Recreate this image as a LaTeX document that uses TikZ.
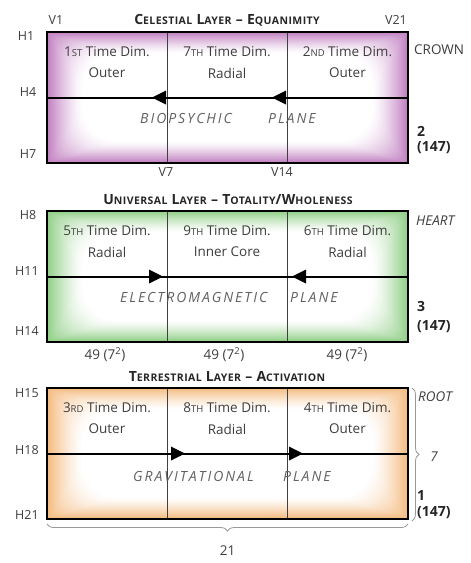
\documentclass[tikz,border=0pt]{standalone}
\usepackage{fontspec}
\setmainfont{Open Sans}
\usetikzlibrary{decorations.pathreplacing}
\definecolor{purp}{RGB}{192,126,192}
\definecolor{gren}{RGB}{142,206,132}
\definecolor{orng}{RGB}{244,186,126}
\definecolor{txt}{RGB}{62,62,62}
\newcommand\lsc[1]{{\fontsize{9.5}{10}\selectfont #1}}
\newcommand\tsc[1]{{\fontsize{10.5}{11}\selectfont #1}}
\newcommand\layer[4]{%
  \begin{scope}[yshift=-#2pt]
    \foreach \i in {0,...,36}{%
      \pgfmathtruncatemacro\pc{100*(1-\i/36)^1.35}%
      \pgfmathsetmacro\dx{\i*1.0}%
      \pgfmathsetmacro\dy{\i*0.6}%
      \fill[#3!\pc!white, rounded corners=\i*1pt] (47+\dx,\dy) rectangle (408-\dx,131-\dy);
    }
    \coordinate (#1-v1t) at (167,0);
    \coordinate (#1-v1b) at (167,131);
    \coordinate (#1-v2t) at (287,0);
    \coordinate (#1-v2b) at (287,131);
    \coordinate (#1-ml) at (47,65.5);
    \coordinate (#1-mr) at (408,65.5);
    \draw[thinline] (#1-v1t) -- (#1-v1b);
    \draw[thinline] (#1-v2t) -- (#1-v2b);
    \draw[midline] (#1-ml) -- (#1-mr);
    #4
    \node[boxframe] (#1-box) at (227.5,65.5) {};
  \end{scope}}
\tikzset{
  thinline/.style={draw=black!75,line width=0.9pt},
  midline/.style={draw=black,line width=2pt},
  boxframe/.style={draw=black,line width=2.4pt,minimum width=361pt,minimum height=131pt,inner sep=0pt},
  cell/.style={text=txt,font=\fontsize{13.5}{14}\selectfont,inner sep=0pt},
  plane/.style={text=black!62,font=\fontsize{14}{14}\selectfont\itshape\addfontfeatures{LetterSpace=14},anchor=west,inner sep=0pt},
  lbl/.style={text=txt,font=\fontsize{12.5}{13}\selectfont,inner sep=0pt},
  side/.style={text=txt,font=\fontsize{13.5}{14}\selectfont,inner sep=0pt,anchor=west},
  ttl/.style={text=black!85,font=\fontsize{14}{14}\selectfont\bfseries\addfontfeatures{LetterSpace=4},inner sep=0pt},
  num/.style={text=black!85,font=\fontsize{14}{14}\selectfont\bfseries,anchor=west,inner sep=0pt},
  brc/.style={draw=black!40,line width=0.8pt,decorate,decoration={brace,amplitude=7pt}},
  larrow/.pic={\fill (0,0) -- (14,-7) -- (14,7) -- cycle;},
  rarrow/.pic={\fill (0,0) -- (-14,-7) -- (-14,7) -- cycle;}
}
\begin{document}
\begin{tikzpicture}[x=1pt,y=-1pt]
\useasboundingbox[fill=white] (0,0) rectangle (471,563);
% ---- Celestial
\layer{A}{32}{purp}{\pic at (152,65.5) {larrow}; \pic at (272,65.5) {larrow};}
\node[cell] (A-c1a) at (107,52) {1\lsc{ST} Time Dim.};
\node[cell] (A-c1b) at (107,73) {Outer};
\node[cell] (A-c2a) at (227,52) {7\lsc{TH} Time Dim.};
\node[cell] (A-c2b) at (227,73) {Radial};
\node[cell] (A-c3a) at (347.5,52) {2\lsc{ND} Time Dim.};
\node[cell] (A-c3b) at (347.5,73) {Outer};
\node[plane] (A-p1) at (140,118) {BIOPSYCHIC};
\node[plane] (A-p2) at (268,118) {PLANE};
\node[ttl] (A-t) at (227,20) {C\tsc{ELESTIAL} L\tsc{AYER} – E\tsc{QUANIMITY}};
\node[lbl] (V1) at (56,20) {V1};
\node[lbl] (V21) at (396,20) {V21};
\node[lbl] (V7) at (166,172) {V7};
\node[lbl] (V14) at (282,172) {V14};
\node[lbl] (H1) at (26,36) {H1};
\node[lbl] (H4) at (28,92) {H4};
\node[lbl] (H7) at (28,154) {H7};
\node[side] (crown) at (414,50) {CROWN};
\node[num] (A-n1) at (417,131) {2};
\node[num] (A-n2) at (417,148) {(147)};
% ---- Universal
\layer{B}{211}{gren}{\pic at (163,65.5) {rarrow}; \pic at (292,65.5) {larrow};}
\node[cell] (B-c1a) at (107,231) {5\lsc{TH} Time Dim.};
\node[cell] (B-c1b) at (107,252) {Radial};
\node[cell] (B-c2a) at (227,231) {9\lsc{TH} Time Dim.};
\node[cell] (B-c2b) at (227,252) {Inner Core};
\node[cell] (B-c3a) at (347.5,231) {6\lsc{TH} Time Dim.};
\node[cell] (B-c3b) at (347.5,252) {Radial};
\node[plane] (B-p1) at (120,297) {ELECTROMAGNETIC};
\node[plane] (B-p2) at (290,297) {PLANE};
\node[ttl] (B-t) at (228,200) {U\tsc{NIVERSAL} L\tsc{AYER} – T\tsc{OTALITY}/W\tsc{HOLENESS}};
\node[lbl] (H8) at (28,215) {H8};
\node[lbl] (H11) at (27,271) {H11};
\node[lbl] (H14) at (27,331) {H14};
\node[side,font=\fontsize{13.5}{14}\selectfont\itshape] (heart) at (416,221) {HEART};
\node[num] (B-n1) at (417,306) {3};
\node[num] (B-n2) at (417,327) {(147)};
\node[lbl,font=\fontsize{13.5}{14}\selectfont] (f1) at (105,355) {49 (7\textsuperscript{2})};
\node[lbl,font=\fontsize{13.5}{14}\selectfont] (f2) at (224,355) {49 (7\textsuperscript{2})};
\node[lbl,font=\fontsize{13.5}{14}\selectfont] (f3) at (347,355) {49 (7\textsuperscript{2})};
% ---- Terrestrial
\layer{C}{388}{orng}{\pic at (185,65.5) {rarrow}; \pic at (303,65.5) {rarrow};}
\node[cell] (C-c1a) at (107,408) {3\lsc{RD} Time Dim.};
\node[cell] (C-c1b) at (107,429) {Outer};
\node[cell] (C-c2a) at (227,408) {8\lsc{TH} Time Dim.};
\node[cell] (C-c2b) at (227,429) {Radial};
\node[cell] (C-c3a) at (347.5,408) {4\lsc{TH} Time Dim.};
\node[cell] (C-c3b) at (347.5,429) {Outer};
\node[plane] (C-p1) at (133,476) {GRAVITATIONAL};
\node[plane] (C-p2) at (283,476) {PLANE};
\node[ttl] (C-t) at (227,377) {T\tsc{ERRESTRIAL} L\tsc{AYER} – A\tsc{CTIVATION}};
\node[lbl] (H15) at (27,393) {H15};
\node[lbl] (H18) at (27,450) {H18};
\node[lbl] (H21) at (27,515) {H21};
\node[side,font=\fontsize{13.5}{14}\selectfont\itshape] (root) at (418,397) {ROOT};
\node[lbl,font=\fontsize{13.5}{14}\selectfont\itshape] (seven) at (434,457) {7};
\node[num] (C-n1) at (417,495) {1};
\node[num] (C-n2) at (417,513) {(147)};
% braces
\coordinate (br-t) at (412,388);
\coordinate (br-b) at (412,521);
\draw[brc] (br-t) -- (br-b);
\coordinate (bb-r) at (408,524);
\coordinate (bb-l) at (47,524);
\draw[brc] (bb-r) -- (bb-l);
\node[lbl,font=\fontsize{13.5}{14}\selectfont] (tw) at (227.5,551) {21};
\end{tikzpicture}
\end{document}
